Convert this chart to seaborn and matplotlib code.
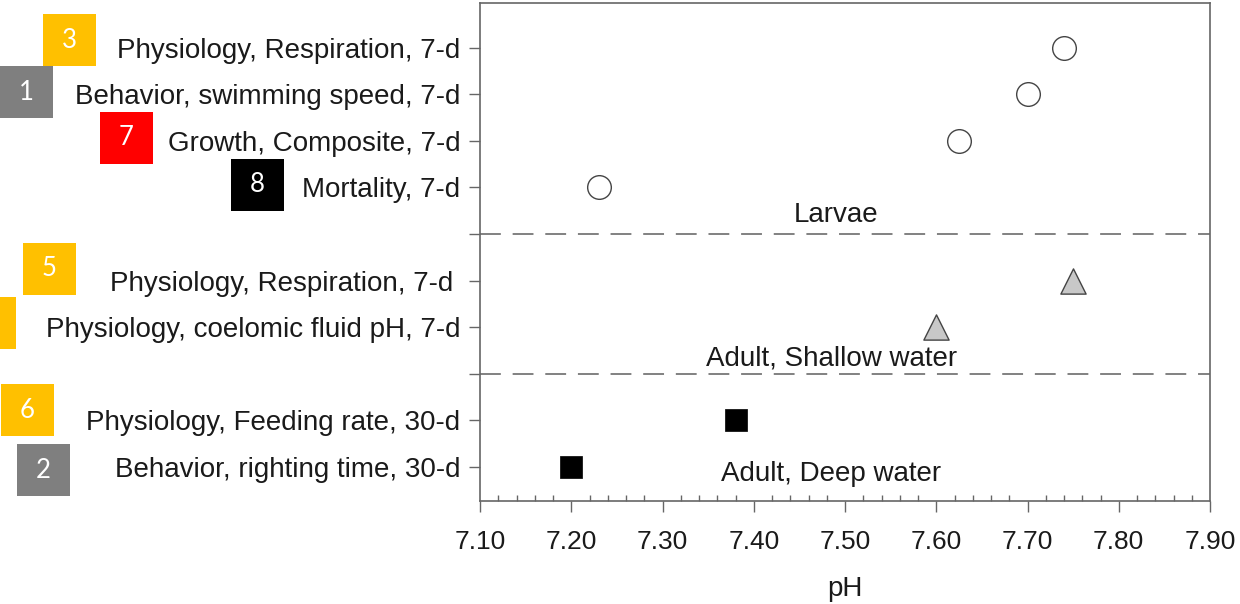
import matplotlib
matplotlib.use("Agg")
import matplotlib.pyplot as plt
import seaborn as sns
import pandas as pd
from matplotlib.patches import Rectangle
from matplotlib.ticker import MultipleLocator, FixedLocator, FormatStrFormatter

# ---------------- data ----------------
larvae_labels = ["Physiology, Respiration, 7-d", "Behavior, swimming speed, 7-d",
                 "Growth, Composite, 7-d", "Mortality, 7-d"]
larvae_ph = [7.74, 7.70, 7.625, 7.23]

shallow_labels = ["Physiology, Respiration, 7-d ", "Physiology, coelomic fluid pH, 7-d"]
shallow_ph = [7.75, 7.60]

deep_labels = ["Physiology, Feeding rate, 30-d", "Behavior, righting time, 30-d"]
deep_ph = [7.38, 7.20]

group_names = ["Larvae", "Adult, Shallow water", "Adult, Deep water"]

box_numbers = ["3", "1", "7", "8", "5", "", "6", "2"]
box_colors = ["#FFC000", "#7F7F7F", "#FF0000", "#000000",
              "#FFC000", "#FFC000", "#FFC000", "#7F7F7F"]

x_ticks = [7.10, 7.20, 7.30, 7.40, 7.50, 7.60, 7.70, 7.80, 7.90]

# ---------------- layout ----------------
W, H = 1240, 604
sns.set_theme(style="ticks")
plt.rcParams['font.family'] = ['Liberation Sans', 'DejaVu Sans']
plt.rcParams['lines.scale_dashes'] = False

# rows from bottom: deep 1-2, separator 3, shallow 4-5, separator 6, larvae 7-10
larvae_pos = [10, 9, 8, 7]
shallow_pos = [5, 4]
deep_pos = [2, 1]
sep_pos = [6, 3]

df = pd.DataFrame({
    "pH": larvae_ph + shallow_ph + deep_ph,
    "pos": larvae_pos + shallow_pos + deep_pos,
    "label": larvae_labels + shallow_labels + deep_labels,
    "group": [group_names[0]] * 4 + [group_names[1]] * 2 + [group_names[2]] * 2,
})

fig = plt.figure(figsize=(W / 100, H / 100), dpi=100)
ax = fig.add_axes([480 / W, 1 - 501 / H, 730 / W, 498 / H])

spine_col = "#666666"
text_col = "#1a1a1a"

sns.scatterplot(data=df[df.group == group_names[0]], x="pH", y="pos", marker="o",
                s=290, color="white", edgecolor="#444444", linewidth=1.0, ax=ax, zorder=3)
sns.scatterplot(data=df[df.group == group_names[1]], x="pH", y="pos", marker="^",
                s=330, color="#C8C8C8", edgecolor="#444444", linewidth=1.0, ax=ax, zorder=3)
sns.scatterplot(data=df[df.group == group_names[2]], x="pH", y="pos", marker="s",
                s=250, color="black", edgecolor="black", linewidth=0.5, ax=ax, zorder=3)

for yp in sep_pos:
    ax.axhline(yp, color="#777777", linewidth=1.3, dashes=(15, 8.5), zorder=2)

ax.text(7.49, 6.41, group_names[0], ha="center", va="center", fontsize=20, color=text_col)
ax.text(7.485, 3.33, group_names[1], ha="center", va="center", fontsize=20, color=text_col)
ax.text(7.485, 0.86, group_names[2], ha="center", va="center", fontsize=20, color=text_col)

ax.set_xlim(7.10, 7.90)
ax.set_ylim(0.27, 10.96)

ax.xaxis.set_major_locator(FixedLocator(x_ticks))
ax.xaxis.set_major_formatter(FormatStrFormatter("%.2f"))
ax.xaxis.set_minor_locator(MultipleLocator(0.02))

ytick_pos = larvae_pos + sep_pos[:1] + shallow_pos + sep_pos[1:] + deep_pos
ytick_lab = larvae_labels + [""] + shallow_labels + [""] + deep_labels
ax.set_yticks(ytick_pos)
ax.set_yticklabels(ytick_lab)

ax.tick_params(axis="x", which="major", direction="out", length=8, width=1,
               color=spine_col, labelsize=19, pad=13, labelcolor=text_col)
ax.tick_params(axis="x", which="minor", direction="in", length=4, width=1, color=spine_col)
ax.tick_params(axis="y", which="major", direction="out", length=8, width=1,
               color=spine_col, labelsize=20, pad=6, labelcolor=text_col)

for sp in ax.spines.values():
    sp.set_visible(True)
    sp.set_color(spine_col)
    sp.set_linewidth(1.2)

ax.set_xlabel("pH", fontsize=20, color=text_col, labelpad=16)
ax.set_ylabel("")

# ---------------- numbered coloured boxes (figure pixels) ----------------
box_xy = [(43, 14), (0, 66), (100, 112), (231, 159),
          (23, 243), (-37, 297), (1, 384), (17, 444)]
bw, bh = 53, 52
for (bx, by), num, col in zip(box_xy, box_numbers, box_colors):
    fig.patches.append(Rectangle((bx / W, 1 - (by + bh) / H), bw / W, bh / H,
                                 transform=fig.transFigure, facecolor=col,
                                 edgecolor="none", zorder=5))
    if num:
        fig.text((bx + bw / 2) / W, 1 - (by + bh / 2) / H, num, ha="center", va="center",
                 color="white", fontsize=18.5, family=["Lato", "DejaVu Sans"], zorder=6)

fig.savefig("out.png", dpi=100)
